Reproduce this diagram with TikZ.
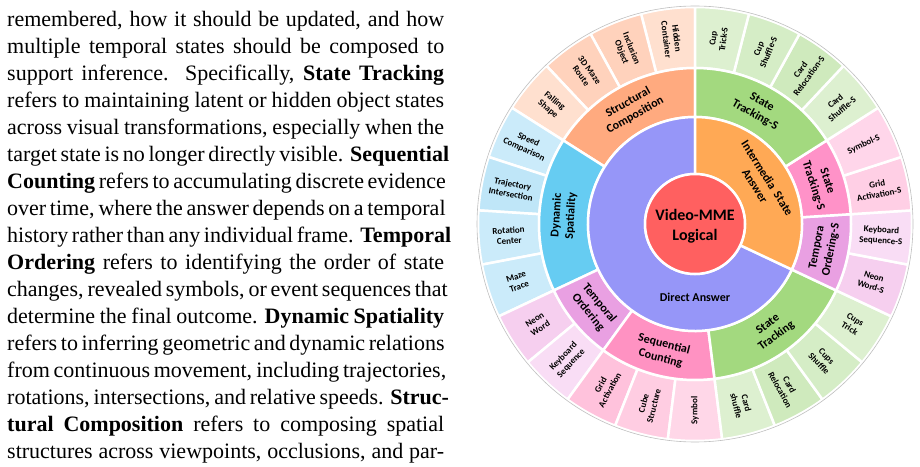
\documentclass[tikz,border=0pt]{standalone}
\usepackage{fontspec}
\setmainfont{Liberation Serif}
\newfontfamily\paperfont{Liberation Serif}
\newfontfamily\chartfont{Carlito}
\usetikzlibrary{positioning}
\definecolor{corered}{HTML}{FF6060}
\definecolor{directblue}{HTML}{9696F8}
\definecolor{interorange}{HTML}{FFA955}
\definecolor{structorange}{HTML}{FFAA7F}
\definecolor{dynblue}{HTML}{66CCF2}
\definecolor{orderpurple}{HTML}{E9A0E2}
\definecolor{countpink}{HTML}{FF92C2}
\definecolor{trackgreen}{HTML}{A3D97F}
\definecolor{trackpink}{HTML}{FF92C8}
\definecolor{structA}{HTML}{FFE0CF}
\definecolor{structB}{HTML}{FFD2BC}
\definecolor{dynA}{HTML}{CBEBFA}
\definecolor{dynB}{HTML}{BFE6F8}
\definecolor{orderA}{HTML}{F6CFEF}
\definecolor{orderB}{HTML}{F9DDF5}
\definecolor{countA}{HTML}{FFC2DC}
\definecolor{countB}{HTML}{FFCDE2}
\definecolor{countC}{HTML}{FFD7E8}
\definecolor{trackA}{HTML}{DDF0D0}
\definecolor{trackB}{HTML}{CFEABD}
\definecolor{trackC}{HTML}{D5EDC6}
\definecolor{pinkA}{HTML}{FFCFE5}
\definecolor{pinkB}{HTML}{FFD6EA}
\newcommand{\fullline}[1]{\hbox to 437pt{#1}}

\begin{document}
\begin{tikzpicture}[x=1pt, y=1pt,
  wedge/.style={draw=white, line width=2.5pt},
  leaflabel/.style={font=\chartfont\bfseries\fontsize{9}{10.5}\selectfont, align=center, inner sep=0pt},
  grouplabel/.style={font=\chartfont\bfseries\fontsize{12}{14.5}\selectfont, align=center, inner sep=0pt}]
\useasboundingbox (0,0) rectangle (920,466);

% text column on the left
\node[anchor=base west, inner sep=0pt] (para) at (7,439) {\parbox[t]{437pt}{\paperfont\fontsize{22}{27}\selectfont
\fullline{remembered, how it should be updated, and how}
\fullline{multiple temporal states should be composed to}
\fullline{support inference.\ \ Specifically, \textbf{State Tracking}}
\fullline{refers to maintaining latent or hidden object states}
\fullline{across visual transformations, especially when the}
\fullline{target state is no longer directly visible. \textbf{Sequential}}
\fullline{\textbf{Counting} refers to accumulating discrete evidence}
\fullline{over time, where the answer depends on a temporal}
\fullline{history rather than any individual frame. \textbf{Temporal}}
\fullline{\textbf{Ordering} refers to identifying the order of state}
\fullline{changes, revealed symbols, or event sequences that}
\fullline{determine the final outcome. \textbf{Dynamic Spatiality}}
\fullline{refers to inferring geometric and dynamic relations}
\fullline{from continuous movement, including trajectories,}
\fullline{rotations, intersections, and relative speeds. \textbf{Struc-}}
\fullline{\textbf{tural Composition} refers to composing spatial}
\fullline{structures across viewpoints, occlusions, and par-}}};

\begin{scope}[shift={(695,242)}]
% outer ring: one wedge per task
\foreach \i/\lbl/\col in {0/{Hidden\\Container}/structA, 1/{Inclusion\\Object}/structB,
  2/{3D Maze\\Route}/structB, 3/{Falling\\Shape}/structA,
  4/{Speed\\Comparison}/dynA, 5/{Trajectory\\Intersection}/dynB,
  6/{Rotation\\Center}/dynA, 7/{Maze\\Trace}/dynA,
  8/{Neon\\Word}/orderA, 9/{Keyboard\\Sequence}/orderB,
  10/{Grid\\Activation}/countA, 11/{Cube\\Structure}/countB, 12/{Symbol}/countC,
  13/{Card\\shuffle}/trackA, 14/{Card\\Relocation}/trackB,
  15/{Cups\\Shuffle}/trackC, 16/{Cups\\Trick}/trackA,
  17/{Neon\\Word-S}/orderA, 18/{Keyboard\\Sequence-S}/orderB,
  19/{Grid\\Activation-S}/pinkA, 20/{Symbol-S}/pinkB,
  21/{Card\\Shuffle-S}/trackA, 22/{Card\\Relocation-S}/trackB,
  23/{Cup\\Shuffle-S}/trackC, 24/{Cup\\Trick-S}/trackA} {
  \pgfmathsetmacro\aa{90+14.4*\i}
  \pgfmathsetmacro\ab{\aa+14.4}
  \pgfmathsetmacro\am{mod(\aa+7.2,360)}
  \pgfmathsetmacro\rot{ifthenelse(and(\am>90,\am<270),\am-180,\am)}
  \filldraw[fill=\col, wedge] (\aa:156) arc (\aa:\ab:156) -- (\ab:217) arc (\ab:\aa:217) -- cycle;
  \node[leaflabel, rotate=\rot] (leaf\i) at (\am:186.5) {\lbl};
}
% middle ring: categories
\foreach \s/\n/\col/\lbl in {0/4/structorange/{Structural\\Composition},
  4/4/dynblue/{Dynamic\\Spatiality}, 8/2/orderpurple/{Temporal\\Ordering},
  10/3/countpink/{Sequential\\Counting}, 13/4/trackgreen/{State\\Tracking},
  17/2/orderpurple/{Tempora\\Ordering-S}, 19/2/trackpink/{State\\Tracking-S},
  21/4/trackgreen/{State\\Tracking-S}} {
  \pgfmathsetmacro\aa{90+14.4*\s}
  \pgfmathsetmacro\ab{\aa+14.4*\n}
  \pgfmathsetmacro\am{mod((\aa+\ab)/2,360)}
  \pgfmathsetmacro\rot{ifthenelse(\am<180,\am-90,\am-270)}
  \filldraw[fill=\col, wedge] (\aa:107) arc (\aa:\ab:107) -- (\ab:156) arc (\ab:\aa:156) -- cycle;
  \node[grouplabel, rotate=\rot] (group\s) at (\am:131.5) {\lbl};
}
% inner ring: answer types
\filldraw[fill=directblue, wedge] (90:50) arc (90:334.8:50) -- (334.8:107) arc (334.8:90:107) -- cycle;
\filldraw[fill=interorange, wedge] (-25.2:50) arc (-25.2:90:50) -- (90:107) arc (90:-25.2:107) -- cycle;
\node[grouplabel] (direct) at (0,-73) {Direct Answer};
\node[grouplabel, rotate=-57.6] (inter) at (32.4:78.5) {Intermedia\ \ State\\Answer};
% core
\filldraw[fill=corered, wedge] (0,0) circle (50);
\node[font=\chartfont\bfseries\fontsize{16}{20}\selectfont, align=center] (core) at (0,-2) {Video-MME\\Logical};
\draw[black!25, line width=0.6pt] (0,0) circle (218);
\end{scope}
\end{tikzpicture}
\end{document}
